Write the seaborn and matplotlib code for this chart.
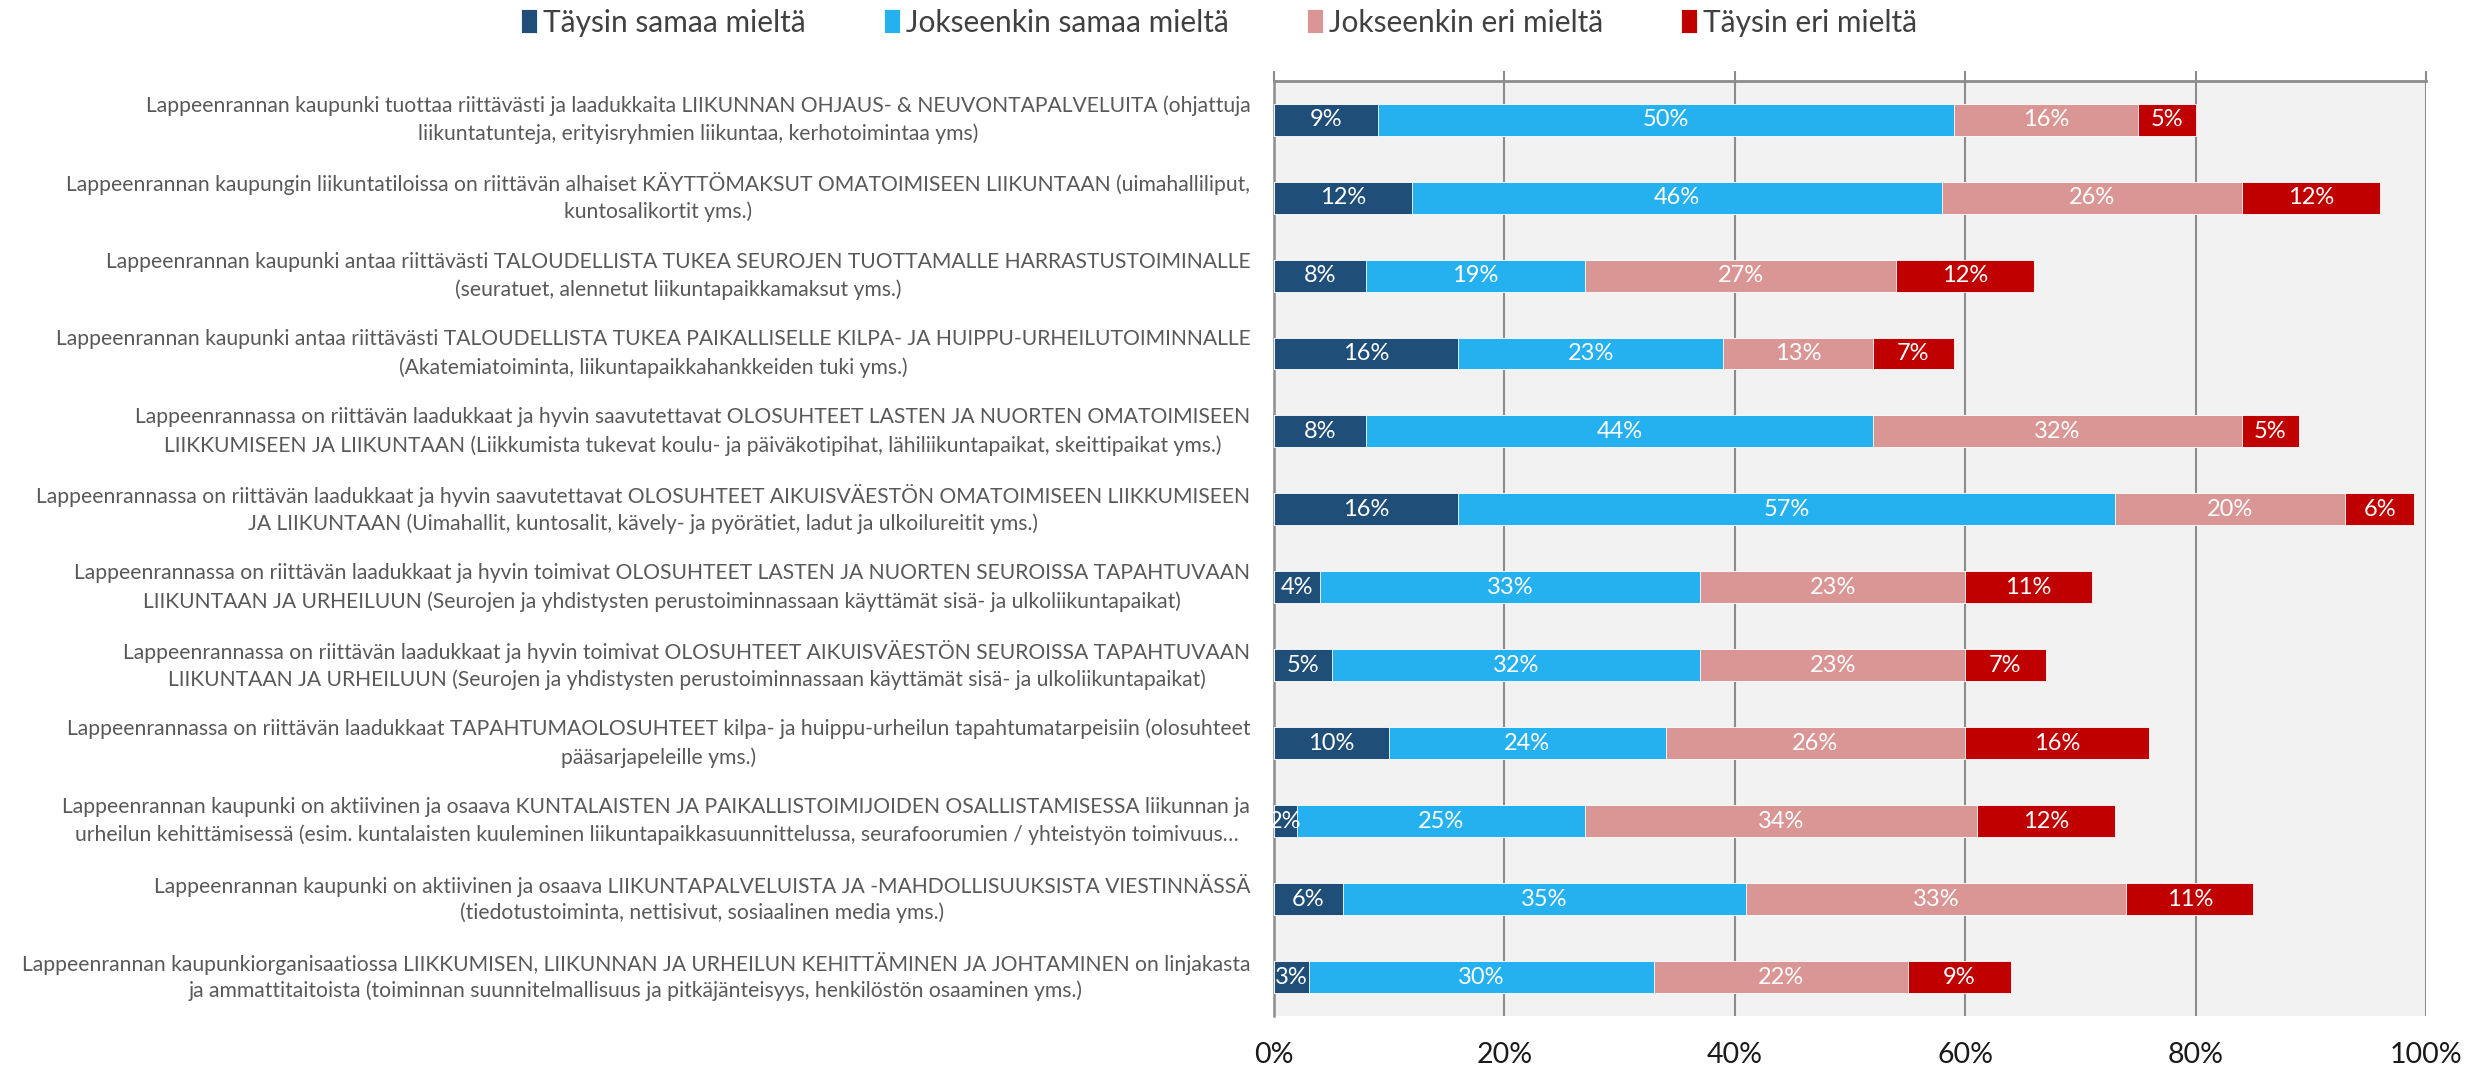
import pandas as pd
import matplotlib.pyplot as plt
import seaborn as sns
import numpy as np

kysymykset = [
    "Lappeenrannan kaupunki tuottaa riittävästi ja laadukkaita LIIKUNNAN OHJAUS- & NEUVONTAPALVELUITA (ohjattuja\nliikuntatunteja, erityisryhmien liikuntaa, kerhotoimintaa yms)",
    "Lappeenrannan kaupungin liikuntatiloissa on riittävän alhaiset KÄYTTÖMAKSUT OMATOIMISEEN LIIKUNTAAN (uimahalliliput,\nkuntosalikortit yms.)",
    "Lappeenrannan kaupunki antaa riittävästi TALOUDELLISTA TUKEA SEUROJEN TUOTTAMALLE HARRASTUSTOIMINALLE\n(seuratuet, alennetut liikuntapaikkamaksut yms.)",
    "Lappeenrannan kaupunki antaa riittävästi TALOUDELLISTA TUKEA PAIKALLISELLE KILPA- JA HUIPPU-URHEILUTOIMINNALLE\n(Akatemiatoiminta, liikuntapaikkahankkeiden tuki yms.)",
    "Lappeenrannassa on riittävän laadukkaat ja hyvin saavutettavat OLOSUHTEET LASTEN JA NUORTEN OMATOIMISEEN\nLIIKKUMISEEN JA LIIKUNTAAN (Liikkumista tukevat koulu- ja päiväkotipihat, lähiliikuntapaikat, skeittipaikat yms.)",
    "Lappeenrannassa on riittävän laadukkaat ja hyvin saavutettavat OLOSUHTEET AIKUISVÄESTÖN OMATOIMISEEN LIIKKUMISEEN\nJA LIIKUNTAAN (Uimahallit, kuntosalit, kävely- ja pyörätiet, ladut ja ulkoilureitit yms.)",
    "Lappeenrannassa on riittävän laadukkaat ja hyvin toimivat OLOSUHTEET LASTEN JA NUORTEN SEUROISSA TAPAHTUVAAN\nLIIKUNTAAN JA URHEILUUN (Seurojen ja yhdistysten perustoiminnassaan käyttämät sisä- ja ulkoliikuntapaikat)",
    "Lappeenrannassa on riittävän laadukkaat ja hyvin toimivat OLOSUHTEET AIKUISVÄESTÖN SEUROISSA TAPAHTUVAAN\nLIIKUNTAAN JA URHEILUUN (Seurojen ja yhdistysten perustoiminnassaan käyttämät sisä- ja ulkoliikuntapaikat)",
    "Lappeenrannassa on riittävän laadukkaat TAPAHTUMAOLOSUHTEET kilpa- ja huippu-urheilun tapahtumatarpeisiin (olosuhteet\npääsarjapeleille yms.)",
    "Lappeenrannan kaupunki on aktiivinen ja osaava KUNTALAISTEN JA PAIKALLISTOIMIJOIDEN OSALLISTAMISESSA liikunnan ja\nurheilun kehittämisessä (esim. kuntalaisten kuuleminen liikuntapaikkasuunnittelussa, seurafoorumien / yhteistyön toimivuus…",
    "Lappeenrannan kaupunki on aktiivinen ja osaava LIIKUNTAPALVELUISTA JA -MAHDOLLISUUKSISTA VIESTINNÄSSÄ\n(tiedotustoiminta, nettisivut, sosiaalinen media yms.)",
    "Lappeenrannan kaupunkiorganisaatiossa LIIKKUMISEN, LIIKUNNAN JA URHEILUN KEHITTÄMINEN JA JOHTAMINEN on linjakasta\nja ammattitaitoista (toiminnan suunnitelmallisuus ja pitkäjänteisyys, henkilöstön osaaminen yms.)",
]

vastaukset = ["Täysin samaa mieltä", "Jokseenkin samaa mieltä", "Jokseenkin eri mieltä", "Täysin eri mieltä"]
taysin_samaa = [9, 12, 8, 16, 8, 16, 4, 5, 10, 2, 6, 3]
jokseenkin_samaa = [50, 46, 19, 23, 44, 57, 33, 32, 24, 25, 35, 30]
jokseenkin_eri = [16, 26, 27, 13, 32, 20, 23, 23, 26, 34, 33, 22]
taysin_eri = [5, 12, 12, 7, 5, 6, 11, 7, 16, 12, 11, 9]
varit = ["#1F4E79", "#25B0EF", "#DA9694", "#C00000"]

df = pd.DataFrame({
    "Kysymys": kysymykset,
    vastaukset[0]: taysin_samaa,
    vastaukset[1]: jokseenkin_samaa,
    vastaukset[2]: jokseenkin_eri,
    vastaukset[3]: taysin_eri,
})
kum = df[vastaukset].cumsum(axis=1)

sns.set_style("white")
plt.rcParams["font.family"] = ["Lato", "DejaVu Sans"]

fig = plt.figure(figsize=(24.78, 10.73), dpi=100)
ax = fig.add_axes([0.5141, 0.0531, 0.4649, 0.8717])
ax.set_facecolor("#F2F2F2")

# pinotaan: piirretään pisin kumulatiivinen palkki ensin
for i in range(3, -1, -1):
    sns.barplot(x=kum[vastaukset[i]], y=df["Kysymys"], orient="h", color=varit[i],
                width=0.41, ax=ax, label=vastaukset[i], saturation=1,
                edgecolor="white", linewidth=0.6, zorder=3)

for i in range(4):
    keski = kum[vastaukset[i]] - df[vastaukset[i]] / 2
    for j in range(len(df)):
        ax.text(keski[j], j, f"{df[vastaukset[i]][j]}%", ha="center", va="center",
                color="white", fontsize=17, zorder=4)

ax.set_xlim(0, 100)
ax.set_ylim(len(df) - 0.5, -0.5)
ax.set_xticks(np.arange(0, 101, 20))
ax.set_xticklabels([f"{t}%" for t in range(0, 101, 20)], fontsize=20.5, color="#1a1a1a")
ax.xaxis.grid(True, color="#8c8c8c", linewidth=1.5, zorder=0)
ax.set_axisbelow(True)
ax.tick_params(axis="x", bottom=False, top=True, labelbottom=True, labeltop=False,
               length=7, width=1.5, color="#8c8c8c", pad=12)

# kysymystekstit rivi kerrallaan: rivit keskitetään toisiinsa nähden,
# koko lohko tasataan oikealle akselin viereen
ax.tick_params(axis="y", which="major", length=0, labelleft=False)
renderer = fig.canvas.get_renderer()
akseli_lev = ax.get_window_extent(renderer).width
oikea_reuna = -0.0205
rivivali = 0.36
for j, teksti in enumerate(df["Kysymys"]):
    rivit = teksti.split("\n")
    osat = []
    for k, rivi in enumerate(rivit):
        yk = j + (k - (len(rivit) - 1) / 2) * rivivali
        osat.append(ax.text(0, yk, rivi, transform=ax.get_yaxis_transform(),
                            ha="center", va="center", fontsize=15.2, color="#595959"))
    lev = max(t.get_window_extent(renderer).width for t in osat)
    for t in osat:
        t.set_x(oikea_reuna - lev / 2 / akseli_lev)

ax.set_yticks(np.arange(-0.5, len(df), 1), minor=True)
ax.tick_params(axis="y", which="minor", length=5.5, width=1.5, color="#8c8c8c")
ax.set_xlabel("")
ax.set_ylabel("")

ax.spines["bottom"].set_visible(False)
ax.spines["right"].set_visible(False)
ax.spines["left"].set_color("#8c8c8c")
ax.spines["left"].set_linewidth(1.8)
ax.spines["top"].set_color("#8c8c8c")
ax.spines["top"].set_linewidth(2)

h, l = ax.get_legend_handles_labels()
jarj = [l.index(v) for v in vastaukset]
fig.legend([h[k] for k in jarj], vastaukset, loc="center", bbox_to_anchor=(0.492, 0.979),
           ncol=4, frameon=False, fontsize=21.5, handlelength=0.55, handleheight=0.85,
           handletextpad=0.2, columnspacing=2.6, labelcolor="#404040")
if ax.get_legend():
    ax.get_legend().remove()

plt.savefig("out.png", dpi=100)
